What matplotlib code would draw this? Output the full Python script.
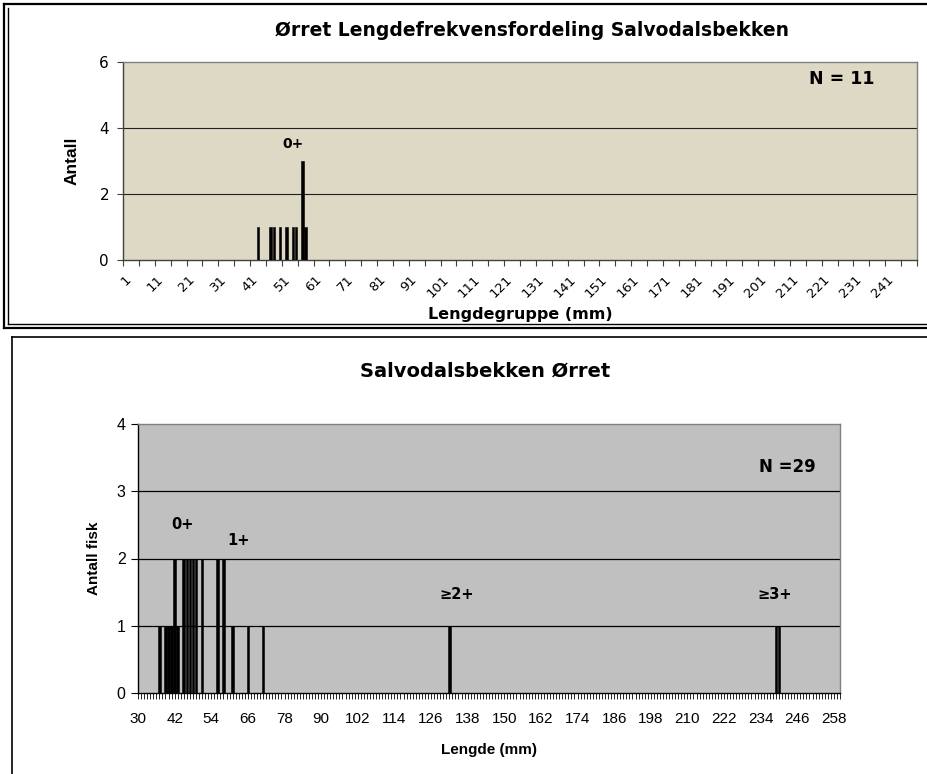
import matplotlib
matplotlib.use("Agg")
import matplotlib.pyplot as plt
from matplotlib.lines import Line2D
from matplotlib.ticker import FixedLocator, MultipleLocator, NullFormatter

plt.rcParams['font.family'] = ['Liberation Sans', 'DejaVu Sans']
WIDE = ['DejaVu Sans']

# ---- upper chart: length groups (1..250 mm) ----
top_title = "Ørret Lengdefrekvensfordeling Salvodalsbekken"
top_groups = [43, 47, 48, 50, 52, 54, 55, 57, 58]
top_counts = [1, 1, 1, 1, 1, 1, 1, 3, 1]
top_n_categories = 250
top_tick_labels = [str(v) for v in range(1, 250, 10)]
top_yticks = [0, 2, 4, 6]
top_age_labels = [("0+", 54, 3.5)]
top_n_text = "N = 11"

# ---- lower chart: individual lengths (mm) ----
bot_title = "Salvodalsbekken Ørret"
bot_lengths = [37, 39, 40, 41, 42, 43, 45, 46, 47, 48, 49, 51, 56, 58,
               61, 66, 71, 132, 239, 240]
bot_counts = [1, 1, 1, 1, 2, 1, 2, 2, 2, 2, 2, 2, 2, 2,
              1, 1, 1, 1, 1, 1]
bot_tick_labels = list(range(30, 259, 12))
bot_yticks = [0, 1, 2, 3, 4]
bot_age_labels = [("0+", 44.5, 2.5), ("1+", 63, 2.27),
                  ("≥2+", 134.5, 1.47), ("≥3+", 238.5, 1.47)]
bot_n_text = "N =29"

W, H = 928, 774
fig = plt.figure(figsize=(W / 100, H / 100), dpi=100)
fig.patch.set_facecolor("white")


def fx(px):
    return px / W


def fy(py):
    return 1 - py / H


def frame_line(x0, y0, x1, y1, lw=1.2, color="black"):
    fig.add_artist(Line2D([fx(x0), fx(x1)], [fy(y0), fy(y1)],
                          transform=fig.transFigure, color=color, lw=lw))


# chart frames
frame_line(4, 4, 935, 4, lw=1.6)
frame_line(4, 4, 4, 328, lw=1.6)
frame_line(8, 8, 8, 324, lw=1.0)
frame_line(4, 328, 935, 328, lw=1.6)
frame_line(8, 324, 935, 324, lw=1.0)

frame_line(12, 337, 935, 337, lw=1.2)
frame_line(12, 337, 12, 780, lw=1.2)

# ---------------- upper axes ----------------
ax1 = fig.add_axes([fx(123), fy(260), fx(794), 198 / H])
ax1.set_facecolor("#DDD9C4")
ax1.bar(top_groups, top_counts, width=0.8, color="black",
        edgecolor="black", linewidth=0.4, zorder=3)
ax1.set_xlim(0.5, top_n_categories + 0.5)
ax1.set_ylim(0, 6)
ax1.set_yticks(top_yticks)
ax1.set_yticklabels([str(v) for v in top_yticks], family=WIDE, fontsize=11)
ax1.tick_params(axis="y", length=4, width=0.8, color="#404040", pad=6)
for y in top_yticks[1:-1]:
    ax1.axhline(y, color="#202020", lw=0.8, zorder=1)
ax1.xaxis.set_major_locator(FixedLocator(list(range(1, 250, 10))))
ax1.set_xticklabels(top_tick_labels, rotation=45, ha="right",
                    rotation_mode="anchor", fontsize=9.5, family=WIDE)
ax1.tick_params(axis="x", which="major", length=0, pad=9)
ax1.xaxis.set_minor_locator(FixedLocator([0.5 + 5 * k for k in range(51)]))
ax1.xaxis.set_minor_formatter(NullFormatter())
ax1.tick_params(axis="x", which="minor", length=4, width=0.8, color="#404040")
for s in ax1.spines.values():
    s.set_color("#808080")
    s.set_linewidth(1.0)
ax1.spines["bottom"].set_color("#404040")
ax1.spines["left"].set_color("#404040")
ax1.set_ylabel("Antall", fontsize=12.5, fontweight="bold", labelpad=14)
ax1.set_xlabel("Lengdegruppe (mm)", fontsize=11.5, fontweight="bold",
               family=WIDE, labelpad=5)
for txt, x, y in top_age_labels:
    ax1.text(x, y, txt, ha="center", va="center", fontsize=10,
             fontweight="bold", family=WIDE)
ax1.text(0.905, 0.914, top_n_text, transform=ax1.transAxes, ha="center",
         va="center", fontsize=12.5, fontweight="bold", family=WIDE)
fig.text(fx(532), fy(31), top_title, ha="center", va="center",
         fontsize=13.5, fontweight="bold", family=WIDE)

# ---------------- lower axes ----------------
ax2 = fig.add_axes([fx(138), fy(693), fx(702), 269 / H])
ax2.set_facecolor("#C0C0C0")
ax2.bar(bot_lengths, bot_counts, width=0.85, color="black",
        edgecolor="black", linewidth=0.4, zorder=3)
ax2.set_xlim(30, 260)
ax2.set_ylim(0, 4)
ax2.set_yticks(bot_yticks)
ax2.tick_params(axis="y", length=5, width=0.8, labelsize=11.5, pad=4)
for y in bot_yticks[1:-1]:
    ax2.axhline(y, color="black", lw=0.9, zorder=1)
ax2.set_xticks(bot_tick_labels)
ax2.set_xticklabels([str(v) for v in bot_tick_labels], fontsize=11)
ax2.xaxis.set_minor_locator(MultipleLocator(1))
ax2.tick_params(axis="x", which="both", length=4, width=0.6, pad=10)
for s in ax2.spines.values():
    s.set_color("#808080")
    s.set_linewidth(1.0)
ax2.spines["bottom"].set_color("black")
ax2.spines["left"].set_color("black")
ax2.set_ylabel("Antall fisk", fontsize=11, fontweight="bold", labelpad=11)
ax2.set_xlabel("Lengde (mm)", fontsize=11, fontweight="bold", labelpad=12)
for txt, x, y in bot_age_labels:
    ax2.text(x, y, txt, ha="center", va="center", fontsize=10.5,
             fontweight="bold", family=WIDE)
ax2.text(0.925, 0.84, bot_n_text, transform=ax2.transAxes, ha="center",
         va="center", fontsize=12, fontweight="bold", family=WIDE)
fig.text(fx(485), fy(371), bot_title, ha="center", va="center",
         fontsize=14, fontweight="bold", family=WIDE)

fig.savefig("out.png", dpi=100, facecolor="white")
